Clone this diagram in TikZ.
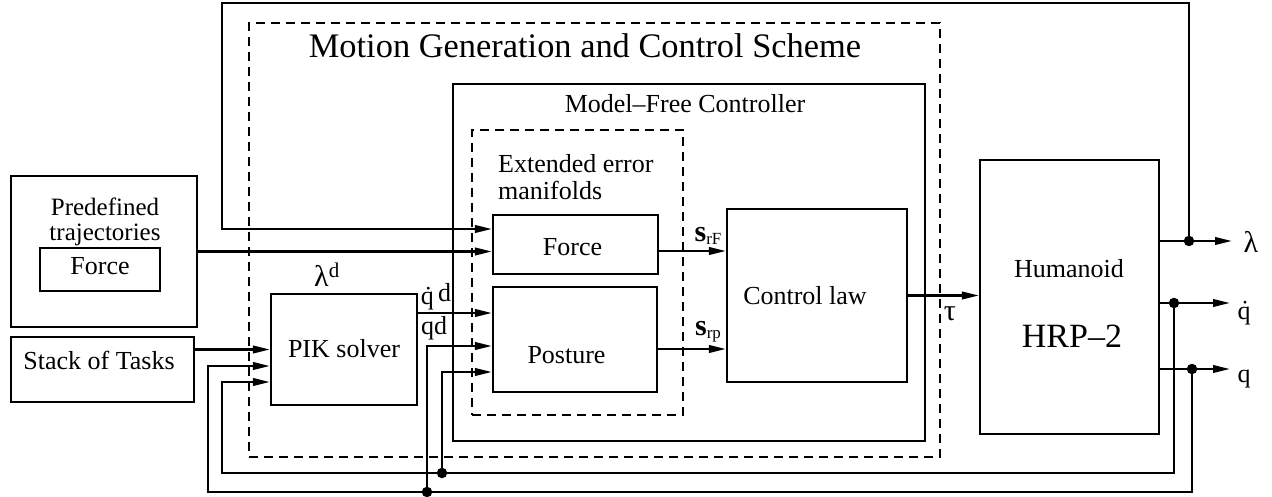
\documentclass[tikz,border=0pt]{standalone}
\usepackage{fontspec}
\setmainfont{Liberation Serif}
\usetikzlibrary{arrows.meta, positioning}

\begin{document}
\begin{tikzpicture}[
    x=1pt, y=-1pt,
    box/.style 2 args = {
        draw=black,
        line width=2.3pt,
        minimum width=#1,
        minimum height=#2,
        inner sep=0pt
    },
    dashbox/.style 2 args = {box={#1}{#2}, dash pattern=on 9pt off 6pt},
    txt/.style = {font=\fontsize{26}{23}\selectfont, inner sep=0pt, anchor=base},
    sym/.style = {font=\fontsize{30}{30}\selectfont, inner sep=0pt, anchor=base},
    conn/.style = {line width=2.3pt},
    arr/.style = {conn, -{Triangle[length=17pt, width=7.5pt]}},
    junction/.style = {circle, fill=black, inner sep=0pt, minimum size=10.5pt}
]
\useasboundingbox (0,0) rectangle (1272,497);

% frames
\node [dashbox={691pt}{434pt}] (mgcs) at (594.5,240) {};
\node [box={472pt}{357pt}] (mfc) at (689,262.5) {};
\node [dashbox={211pt}{285pt}] (eem) at (577.5,272.5) {};
\node [font=\fontsize{34.4}{34}\selectfont, inner sep=0pt, anchor=base] (mgcstxt) at (585,58) {Motion Generation and Control Scheme};
\node [txt] (mfctxt) at (685,113) {Model--Free Controller};
\node [font=\fontsize{26}{27}\selectfont, inner sep=0pt, anchor=west, align=left] (eemtxt) at (498,177.6) {Extended error\\manifolds};

% blocks
\node [box={186pt}{151pt}] (pred) at (104,251.5) {};
\node [font=\fontsize{25}{25}\selectfont, inner sep=0pt, align=center] (predtxt) at (105,221.5) {Predefined\\trajectories};
\node [box={120pt}{43pt}] (predforce) at (100,269.5) {};
\node [txt] (predforcetxt) at (100,275) {Force};
\node [box={183pt}{65pt}] (sot) at (102.5,369.5) {};
\node [txt] (sottxt) at (99,369) {Stack of Tasks};
\node [box={146pt}{111pt}] (pik) at (344,349.5) {};
\node [txt] (piktxt) at (344,357) {PIK solver};
\node [box={165pt}{59pt}] (force) at (575.5,244.5) {};
\node [txt] (forcetxt) at (572.5,255) {Force};
\node [box={164pt}{105pt}] (posture) at (575,339.5) {};
\node [txt] (posturetxt) at (566.5,363) {Posture};
\node [box={180pt}{173pt}] (ctrl) at (817,295.5) {};
\node [txt] (ctrltxt) at (805,305) {Control law};
\node [box={179pt}{274pt}] (hrp) at (1069.5,297) {};
\node [txt] (hrptxt) at (1069,277) {Humanoid};
\node [txt, font=\fontsize{34}{34}\selectfont] (hrpname) at (1072,347) {HRP--2};

% junctions and loop corners
\node [junction] (jlam) at (1189,241) {};
\node [junction] (jqd) at (1174,303) {};
\node [junction] (jq) at (1192,369) {};
\node [junction] (tqd) at (442,473) {};
\node [junction] (tq) at (427,492) {};
\coordinate (fbtop) at (222,3);
\coordinate (qdloop) at (222,473);
\coordinate (qloop) at (208,492);
\coordinate (lamend) at (1232,241);
\coordinate (qdend) at (1230,303);
\coordinate (qend) at (1230,369);

% signals
\draw [arr] (pred.east) -- (pred.east -| force.west);
\draw [arr] (jlam) |- (fbtop) |- ([yshift=15.5pt]force.west);
\draw [arr] (pik.west -| sot.east) -- (pik.west);
\draw [arr] ([yshift=36.5pt]pik.east) -- ([yshift=26.5pt]posture.west);
\draw [arr] (tq) |- ([yshift=-6.5pt]posture.west);
\draw [arr] (tqd) |- ([yshift=-32.5pt]posture.west);
\draw [arr] ([yshift=-6.5pt]force.east) -- ([yshift=44.5pt]ctrl.west);
\draw [arr] ([yshift=-9.5pt]posture.east) -- ([yshift=-53.5pt]ctrl.west);
\draw [arr] (ctrl.east) -- (ctrl.east -| hrp.west);
\draw [arr] ([yshift=56pt]hrp.east) -- (lamend);
\draw [arr] ([yshift=-6pt]hrp.east) -- (qdend);
\draw [arr] ([yshift=-72pt]hrp.east) -- (qend);
\draw [arr] (jqd) |- (qdloop) |- ([yshift=-32.5pt]pik.west);
\draw [arr] (jq) |- (qloop) |- ([yshift=-16.5pt]pik.west);

% signal labels
\node [sym] (lamdtxt) at (327,287) {λ\textsuperscript{d}};
\node [txt] (qddtxt) at (436,305) {q̇\,\raisebox{4pt}{d}};
\node [txt] (qdtxt) at (434,334) {qd};
\node [sym] (srftxt) at (708,242) {\textbf{s}\raisebox{-3pt}{\fontsize{17}{17}\selectfont rF}};
\node [sym] (srptxt) at (708,335) {\textbf{s}\raisebox{-3pt}{\fontsize{17}{17}\selectfont rp}};
\node [sym] (tautxt) at (950,320) {τ};
\node [sym] (lamtxt) at (1251,253) {λ};
\node [txt] (qdouttxt) at (1244,319) {q̇};
\node [txt] (qouttxt) at (1244,382) {q};

\end{tikzpicture}
\end{document}
